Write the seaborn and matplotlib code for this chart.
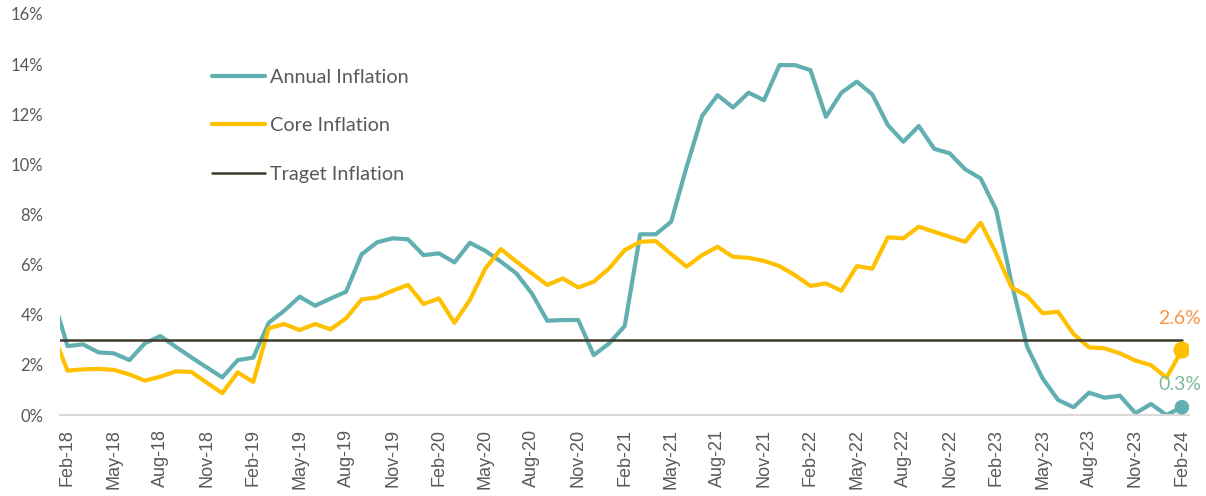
import pandas as pd
import seaborn as sns
import matplotlib.pyplot as plt

# monthly, Jan-18 .. Feb-24 (Jan-18 sits just outside the visible range)
months = pd.date_range("2018-01-01", "2024-02-01", freq="MS").strftime("%b-%y").tolist()

annual = [4.8, 2.75, 2.82, 2.50, 2.46, 2.19, 2.86, 3.15, 2.72, 2.30, 1.90, 1.50,
          2.19, 2.29, 3.68, 4.16, 4.72, 4.36, 4.65, 4.92, 6.41, 6.89, 7.05, 7.01,
          6.38, 6.45, 6.09, 6.87, 6.55, 6.12, 5.65, 4.85, 3.76, 3.79, 3.79, 2.39,
          2.86, 3.55, 7.21, 7.21, 7.71, 9.90, 11.93, 12.76, 12.27, 12.86, 12.56, 13.96,
          13.96, 13.76, 11.90, 12.86, 13.30, 12.79, 11.57, 10.90, 11.53, 10.62, 10.44, 9.80,
          9.44, 8.18, 5.25, 2.72, 1.46, 0.60, 0.31, 0.89, 0.69, 0.77, 0.07, 0.44,
          0.0, 0.31]

core = [3.35, 1.77, 1.82, 1.84, 1.80, 1.62, 1.37, 1.53, 1.74, 1.72, 1.29, 0.87,
        1.70, 1.32, 3.46, 3.63, 3.39, 3.63, 3.42, 3.86, 4.61, 4.69, 4.96, 5.19,
        4.43, 4.65, 3.68, 4.59, 5.85, 6.62, 6.12, 5.65, 5.19, 5.45, 5.09, 5.32,
        5.85, 6.58, 6.91, 6.94, 6.42, 5.92, 6.38, 6.71, 6.31, 6.27, 6.15, 5.94,
        5.58, 5.15, 5.25, 4.96, 5.94, 5.84, 7.09, 7.05, 7.51, 7.31, 7.11, 6.91,
        7.67, 6.45, 5.09, 4.75, 4.06, 4.12, 3.23, 2.70, 2.66, 2.46, 2.17, 1.99,
        1.49, 2.59]

target_rate = 3.0

df = pd.DataFrame({"idx": range(len(months)), "month": months,
                   "annual": annual, "core": core})
df["target"] = target_rate

sns.set_style("white")
plt.rcParams["font.family"] = ["Lato", "DejaVu Sans"]

fig = plt.figure(figsize=(12.06, 4.96), dpi=100)
ax = fig.add_axes([0.0498, 0.1633, 0.936, 0.8085])

teal = "#62AFB1"
gold = "#FFC000"
dark = "#3F3A29"

sns.lineplot(data=df, x="idx", y="annual", color=teal, lw=3, label="Annual Inflation", ax=ax)
sns.lineplot(data=df, x="idx", y="core", color=gold, lw=3, label="Core Inflation", ax=ax)
sns.lineplot(data=df, x="idx", y="target", color=dark, lw=1.8, label="Traget Inflation", ax=ax)

# end markers + labels
last = df.iloc[-1]
ax.scatter([last["idx"]], [last["core"]], s=150, color=gold, zorder=5, edgecolor="none")
ax.scatter([last["idx"]], [last["annual"]], s=110, color=teal, zorder=5, edgecolor="none")
ax.annotate(f"{last['core']:.1f}%", xy=(last["idx"], last["core"]), xytext=(-2, 32),
            textcoords="offset pixels", ha="center", va="center", fontsize=14, color="#F79646")
ax.annotate(f"{last['annual']:.1f}%", xy=(last["idx"], last["annual"]), xytext=(-2, 23),
            textcoords="offset pixels", ha="center", va="center", fontsize=14, color="#7DB99A")

ax.set_xlim(0.52, 73.45)
ax.set_ylim(0, 16)
ax.set_yticks(range(0, 17, 2))
ax.set_yticklabels([f"{v}%" for v in range(0, 17, 2)], fontsize=12, color="#595959")

tick_idx = list(range(1, len(months), 3))
ax.set_xticks(tick_idx)
ax.set_xticklabels([months[i] for i in tick_idx], rotation=90, fontsize=13,
                   color="#595959", family="Liberation Sans")
ax.tick_params(axis="x", length=0, pad=10)
ax.tick_params(axis="y", length=0, pad=12)
ax.set_xlabel("")
ax.set_ylabel("")

for s in ["top", "right", "left"]:
    ax.spines[s].set_visible(False)
ax.spines["bottom"].set_color("#D9D9D9")
ax.spines["bottom"].set_linewidth(1.5)

ax.legend(loc="upper left", bbox_to_anchor=(0.135, 0.863), frameon=False, fontsize=14.3,
          handlelength=2.67, handletextpad=0.25, labelspacing=1.58, borderpad=0,
          borderaxespad=0, labelcolor="#595959")

fig.savefig("out.png", dpi=100)
